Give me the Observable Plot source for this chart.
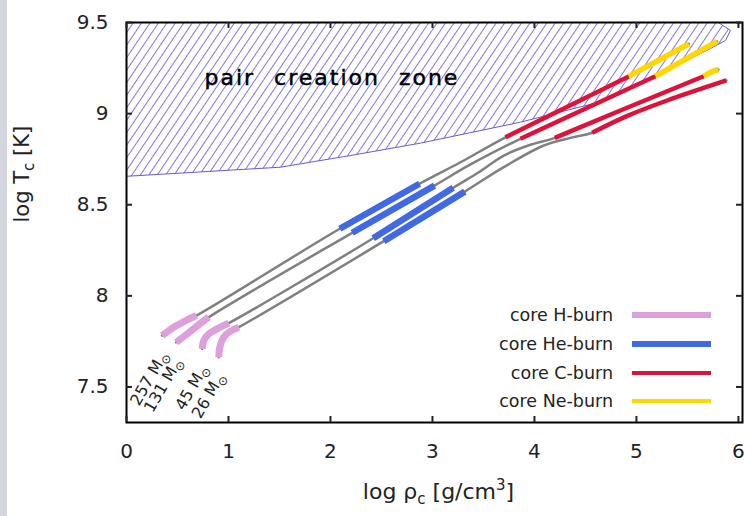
<!DOCTYPE html>
<html><head><meta charset="utf-8">
<script src="https://cdn.jsdelivr.net/npm/d3@7"></script>
<script src="https://cdn.jsdelivr.net/npm/@observablehq/plot@0.6"></script>
<style>
html,body{margin:0;padding:0;background:#fff;}
#wrap{position:relative;width:753px;height:516px;background:linear-gradient(to right,#d3d6de 0,#d3d6de 7px,#fff 7px);}
.lg-text{position:absolute;left:0;width:613px;text-align:right;font-family:"DejaVu Sans",sans-serif;font-size:17.5px;color:#222;height:28px;line-height:28px;}
.lg-line{position:absolute;left:632px;width:79px;}
</style></head><body><div id="wrap"></div>
<script>
const xTicks = [0, 1, 2, 3, 4, 5, 6];
const yTicks = [7.5, 8, 8.5, 9, 9.5];
const massLabels = ["257 M⊙", "131 M⊙", "45 M⊙", "26 M⊙"];
const phaseCodes = ["H", "He", "C", "Ne"];
const phaseNames = ["core H-burn", "core He-burn", "core C-burn", "core Ne-burn"];
const phaseColors = ["#dda0dd", "#4169e1", "#dc143c", "#ffd700"];
const zoneLabel = "pair creation zone";
const xLabel = "log ρc [g/cm3]";
const yLabel = "log Tc [K]";

// pair creation zone boundary (log rho, log T), closed along the top-left
const zoneRho = [0, 1.51, 2.196, 2.882, 3.863, 4.696, 5.167, 5.461, 5.725, 5.873, 5.922, 5.804, 0];
const zoneT   = [8.656, 8.706, 8.770, 8.838, 8.953, 9.072, 9.200, 9.282, 9.357, 9.401, 9.456, 9.5, 9.5];

// evolutionary tracks: [phase, log rho_c, log T_c]; "-" = between burning phases
const track257 = [
  ["H",0.350,7.782],["H",0.464,7.828],["H",0.595,7.868],["H",0.686,7.892],
  ["He",2.091,8.368],["He",2.873,8.615],
  ["-",3.275,8.733],
  ["C",3.716,8.870],["C",4.925,9.204],
  ["Ne",4.925,9.204],["Ne",5.513,9.383]
];
const track131 = [
  ["H",0.487,7.745],["H",0.595,7.791],["H",0.709,7.842],["H",0.807,7.883],
  ["He",2.213,8.346],["He",3.020,8.605],
  ["-",3.373,8.721],
  ["C",3.863,8.862],["C",5.186,9.205],
  ["Ne",5.186,9.205],["Ne",5.791,9.396]
];
const track45 = [
  ["H",0.742,7.709],["H",0.758,7.755],["H",0.807,7.791],["H",0.889,7.819],["H",1.003,7.850],
  ["He",2.419,8.316],["He",3.203,8.593],
  ["-",3.454,8.678],["-",3.699,8.770],["-",3.961,8.829],
  ["C",4.200,8.867],["C",4.843,9.017],["C",5.660,9.205],
  ["Ne",5.660,9.205],["Ne",5.745,9.231],["Ne",5.804,9.242]
];
const track26 = [
  ["H",0.905,7.663],["H",0.915,7.718],["H",0.954,7.773],["H",1.020,7.806],["H",1.101,7.828],
  ["He",2.523,8.300],["He",3.317,8.572],
  ["-",3.699,8.706],["-",4.091,8.825],["-",4.353,8.867],
  ["C",4.566,8.895],["C",4.900,8.985],["C",5.301,9.072],["C",5.882,9.182]
];

const W = 753, H = 516, mL = 126, mR = 11, mT = 22, mB = 94;
const plotW = W - mL - mR, plotH = H - mT - mB;
const phaseWidths = [7, 6.5, 4.5, 5.5];
const FONT = "DejaVu Sans, sans-serif";

const tracks = [track257, track131, track45, track26];
const rows = tracks.flatMap((t, i) => t.map(([phase, x, y]) => ({track: i, phase, x, y})));
const zone = zoneRho.map((x, i) => ({x, y: zoneT[i]}));
const starts = tracks.map((t, i) => ({x: t[0][1], y: t[0][2], label: massLabels[i]}));

const chart = Plot.plot({
  width: W, height: H,
  marginLeft: mL, marginRight: mR, marginTop: mT, marginBottom: mB,
  x: {domain: [0, 6.04]},
  y: {domain: [7.305, 9.5]},
  style: {fontFamily: FONT, fontSize: "20px", color: "#222", background: "transparent", overflow: "visible"},
  marks: [
    Plot.line(zone, {x: "x", y: "y", fill: "url(#hatch)", stroke: "#6a5acd", strokeWidth: 1}),
    Plot.line(rows, {x: "x", y: "y", z: "track", stroke: "#808080", strokeWidth: 2.5, curve: "catmull-rom"}),
    ...phaseCodes.map((p, k) => Plot.line(rows.filter(d => d.phase === p), {
      x: "x", y: "y", z: "track", stroke: phaseColors[k], strokeWidth: phaseWidths[k], strokeLinecap: "butt", curve: "catmull-rom"
    })),
    Plot.text(starts, {x: "x", y: "y", text: "label", rotate: -60, textAnchor: "end", dx: 2, dy: 17, fontSize: 16, fill: "#222"}),
    Plot.text([zoneLabel], {frameAnchor: "top-left", dx: 78, dy: 47, text: d => d, textAnchor: "start", fontSize: 22, fill: "#000", stroke: "#000", strokeWidth: 0.5}),
    Plot.frame({stroke: "black", strokeWidth: 2}),
    Plot.tickY(yTicks, {y: d => d, insetRight: plotW - 6, strokeWidth: 2}),
    Plot.tickY(yTicks, {y: d => d, insetLeft: plotW - 6, strokeWidth: 2}),
    Plot.tickX(xTicks, {x: d => d, insetTop: plotH - 6, strokeWidth: 2}),
    Plot.tickX(xTicks, {x: d => d, insetBottom: plotH - 6, strokeWidth: 2}),
    Plot.axisX({ticks: xTicks, tickSize: 0, tickPadding: 21, label: null, tickFormat: d => String(d)}),
    Plot.axisY({ticks: yTicks, tickSize: 0, tickPadding: 18, label: null, tickFormat: d => String(d)}),
    Plot.text([xLabel], {frameAnchor: "bottom", dx: 4, dy: 76, text: d => d, fontSize: 22}),
    Plot.text([yLabel], {frameAnchor: "left", dx: -104, rotate: -90, text: d => d, fontSize: 21})
  ]
});

const svg = d3.select(chart);
svg.insert("defs", ":first-child").html(
  '<pattern id="hatch" patternUnits="userSpaceOnUse" width="7" height="7" patternTransform="rotate(34)">' +
  '<line x1="3.5" y1="-1" x2="3.5" y2="8" stroke="#7466dc" stroke-width="0.9"/></pattern>');

svg.selectAll("text").each(function() {
  const t = this.textContent;
  if (t === yLabel) {
    this.innerHTML = 'log T<tspan dy="5" font-size="15">c</tspan><tspan dy="-5"> [K]</tspan>';
  } else if (t === xLabel) {
    this.innerHTML = 'log ρ<tspan dy="5" font-size="15">c</tspan><tspan dy="-5"> [g/cm</tspan><tspan dy="-9" font-size="15">3</tspan><tspan dy="9">]</tspan>';
  } else if (t.includes("⊙")) {
    this.innerHTML = t.replace("⊙", "") + '<tspan dy="4" font-size="12">⊙</tspan>';
  } else if (t === zoneLabel) {
    this.style.letterSpacing = "2px";
    this.style.wordSpacing = "10px";
  }
});

const wrap = document.getElementById("wrap");
wrap.appendChild(chart);

const rowCenters = [315, 344, 372.5, 401];
const lineHeights = [6.5, 6, 4, 4.7];
phaseNames.forEach((name, k) => {
  const t = document.createElement("div");
  t.className = "lg-text";
  t.style.top = (rowCenters[k] - 14) + "px";
  t.textContent = name;
  wrap.appendChild(t);
  const l = document.createElement("div");
  l.className = "lg-line";
  l.style.top = (rowCenters[k] - lineHeights[k] / 2) + "px";
  l.style.height = lineHeights[k] + "px";
  l.style.background = phaseColors[k];
  wrap.appendChild(l);
});
</script></body></html>
